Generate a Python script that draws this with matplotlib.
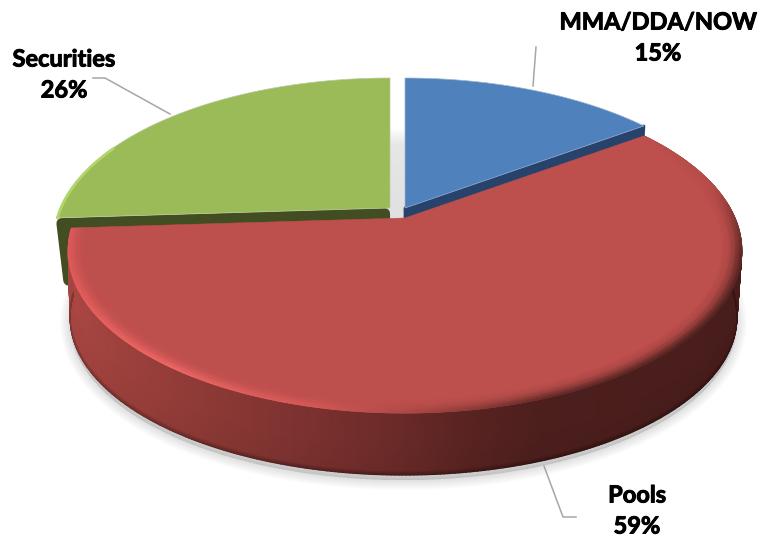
import numpy as np
import matplotlib
matplotlib.use("Agg")
import matplotlib.pyplot as plt
import matplotlib.patheffects as pe
from matplotlib.patches import Polygon

categories = ["MMA/DDA/NOW", "Pools", "Securities"]
values = [15, 59, 26]
colors = ["#4F81BD", "#BD4F4C", "#9BBB59"]
wall_colors = ["#27436C", "#4A1E1B", "#434D22"]
label_xy = [(658, 22), (637, 495), (64, 59)]

R, A, K = 330.0, 156.0, -0.2
DROP, SHRINK, SHIFT = 68.0, 0.99, -1.5
apexes = [(405, 208), (405, 218), (390, 208)]

edges = np.concatenate([[0], np.cumsum(values)]) / np.sum(values) * 360.0


def proj(theta, r, apex, lowered=False, shrink=SHRINK):
    t = np.radians(theta)
    u, vp = r * np.sin(t), -r * np.cos(t)
    d = 1 + K * vp
    x, y = R * u / d, A * vp / d
    if lowered:
        return apex[0] + shrink * x + SHIFT, apex[1] + 0.97 * y + DROP
    return apex[0] + x, apex[1] + y


def wedge(i, n=240):
    th = np.linspace(edges[i], edges[i + 1], n)
    x, y = proj(th, 1.0, apexes[i])
    return np.column_stack([np.r_[apexes[i][0], x], np.r_[apexes[i][1], y]])


fig = plt.figure(figsize=(7.6, 5.38), dpi=100)
ax = fig.add_axes([0, 0, 1, 1])
ax.axis("off")

# soft shadow under the disc
th = np.linspace(edges[1], edges[2], 300)
sx, sy = proj(th, 1.0, apexes[1], lowered=True)
for lw in np.arange(20, 1, -2):
    ax.add_patch(Polygon(np.column_stack([sx, sy + 5]), closed=True, fc="none", ec="k",
                         lw=lw * 0.72, alpha=0.012, zorder=1, joinstyle="round"))
    ax.add_patch(Polygon(np.column_stack([sx, sy + 5]), closed=True, fc="k",
                         ec="none", alpha=0.012, zorder=1))

# grey gap between the exploded slices
gx, gy = np.meshgrid([388.0, 407.0], [128.0, 145.0, 222.0])
gc = np.array([[[1, 1, 1]] * 2, [[.90, .90, .90]] * 2, [[.88, .88, .88]] * 2])
ax.pcolormesh(gx, gy, gc, shading="gouraud", zorder=2)

# cut walls of blue and green
for i, ang, inset, shr, lw in ((0, edges[1], 0.0, SHRINK, 2), (2, edges[2], 5.5, 0.975, 8)):
    cx, cy = proj(ang, 1.0, apexes[i])
    bx, by = proj(ang, 1.0, apexes[i], lowered=True, shrink=shr)
    ax0, ay0 = apexes[i]
    ax.add_patch(Polygon([(ax0 - inset, ay0 + inset), (cx + inset, cy + inset),
                          (bx + inset, by - inset), (ax0 - inset, ay0 + DROP)], closed=True,
                         fc=wall_colors[i], ec=wall_colors[i], lw=lw,
                         joinstyle="round", zorder=3))

# blue and green tops
ax.add_patch(Polygon(wedge(0), closed=True, fc=colors[0], ec="#9DB4D2", lw=0.5, zorder=4))
ax.add_patch(Polygon(wedge(2), closed=True, fc=colors[2], ec="#B9C9A0", lw=0.5, zorder=4))
gth = np.linspace(edges[2], edges[2] + 28, 80)
gex, gey = proj(gth, 0.997, apexes[2])
ax.plot(gex, gey, color="#B4D56C", lw=2.0, zorder=4.5, solid_capstyle="round")

# red side wall
th = np.linspace(edges[1], edges[2], 400)
rows = [0.0, 0.5, 0.94, 1.0]
tx, ty = proj(th, 1.0, apexes[1])
bx, by = proj(th, 1.0, apexes[1], lowered=True)
X = np.array([tx + (bx - tx) * s for s in rows])
Y = np.array([ty + (by - ty) * s for s in rows])
xs = [60, 110, 200, 300, 400, 470, 540, 760]
cr = [172, 160, 142, 125, 105, 88, 76, 72]
cg = [72, 66, 58, 50, 42, 35, 31, 29]
cb = [68, 62, 54, 48, 40, 33, 29, 27]
C = np.dstack([np.interp(X, xs, c) / 255 for c in (cr, cg, cb)])
C[-1] *= 0.62
C[-2] *= 0.96
ax.pcolormesh(X, Y, C, shading="gouraud", zorder=5)

# red top with a rounded bevelled rim
ax.add_patch(Polygon(wedge(1), closed=True, fc=colors[1], ec=colors[1], lw=0.4, zorder=6))
rth = np.linspace(edges[1] + 0.3, edges[2] - 0.3, 400)
rr = [1.0, 0.992, 0.98, 0.965, 0.945]
mix = [0.0, 0.15, 0.5, 0.82, 1.0]
gp = [54, 78, 92, 104, 130, 160, 178, 192, 216, 250, 266.4]
gr = [189, 180, 125, 90, 78, 100, 165, 212, 240, 226, 222]
gg = [79, 75, 52, 38, 34, 42, 70, 88, 104, 92, 90]
gb = [76, 72, 48, 35, 32, 40, 66, 86, 104, 90, 90]
rim = np.column_stack([np.interp(rth, gp, c) for c in (gr, gg, gb)]) / 255
base = np.array(matplotlib.colors.to_rgb(colors[1]))
MX = np.array([proj(rth, r, apexes[1])[0] for r in rr])
MY = np.array([proj(rth, r, apexes[1])[1] for r in rr])
MC = np.array([rim * (1 - m) + base * m for m in mix])
ax.pcolormesh(MX, MY, MC, shading="gouraud", zorder=7)

# leader lines
lc = "#A6A6A6"
ax.plot([536, 533], [47, 86], color=lc, lw=1.1, zorder=8)
ax.plot([93, 105, 170], [78, 78, 114], color=lc, lw=1.1, zorder=8)
ax.plot([544, 563, 576], [466, 517, 517], color=lc, lw=1.1, zorder=8)

# labels
heavy = [pe.withStroke(linewidth=0.7, foreground="k")]
for name, v, (lx, ly) in zip(categories, values, label_xy):
    for txt, yy in ((name, ly), (f"{v}%", ly + 31)):
        ax.text(lx, yy, txt, ha="center", va="center", family="Lato", weight="bold",
                fontsize=17, color="k", zorder=9, path_effects=heavy)

ax.set_xlim(0, 760)
ax.set_ylim(538, 0)
fig.savefig("out.png", dpi=100)
